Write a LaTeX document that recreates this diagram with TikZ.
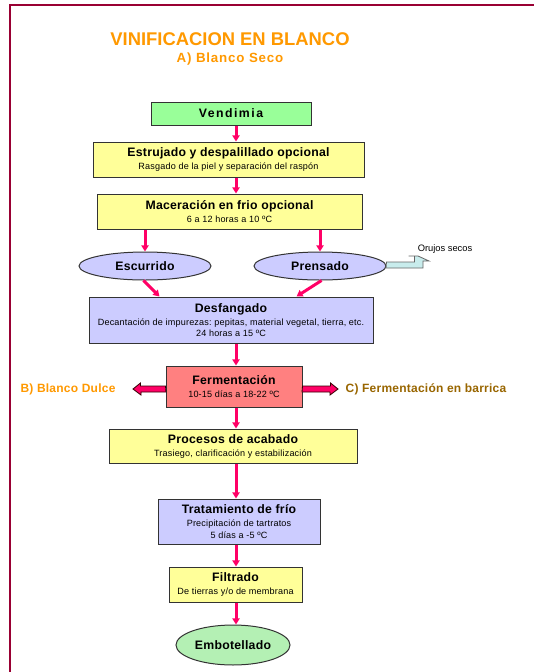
\documentclass[tikz,border=0pt]{standalone}
\usepackage{fontspec}
\setmainfont{Liberation Sans}
\frenchspacing
\usetikzlibrary{arrows.meta,shapes.geometric,calc}
\definecolor{frame}{HTML}{990033}
\definecolor{ttl}{HTML}{FF9900}
\definecolor{brn}{HTML}{996600}
\definecolor{yel}{HTML}{FFFF99}
\definecolor{vgreen}{HTML}{99FF99}
\definecolor{lgreen}{RGB}{180,240,180}
\definecolor{lav}{HTML}{CCCCFF}
\definecolor{salmon}{HTML}{FF8080}
\definecolor{pinkarr}{HTML}{FF0066}
\definecolor{cyanarr}{RGB}{200,236,236}
\definecolor{boxline}{HTML}{333333}
\newcommand{\tit}{\fontsize{9.2pt}{9.75pt}\selectfont\bfseries\addfontfeature{LetterSpace=2}}
\newcommand{\subt}{\fontsize{6.8pt}{9.75pt}\selectfont\addfontfeature{LetterSpace=2}}
\begin{document}
\begin{tikzpicture}[x=0.75pt,y=-0.75pt,
  box/.style={draw=boxline, line width=0.75pt, inner sep=0pt, align=center, font=\subt},
  ybox/.style={box, fill=yel},
  lbox/.style={box, fill=lav},
  ell/.style={box, ellipse},
  parr/.style={draw=pinkarr, line width=2.25pt, -{Triangle[width=5.4pt,length=4.6pt]}},
  barr/.style={fill=pinkarr, draw=black!80!red, line width=0.6pt, line join=miter},
  carr/.style={fill=cyanarr, draw=black!60, line width=0.6pt, line join=miter},
  lbl/.style={inner sep=0pt, font=\fontsize{9pt}{10pt}\selectfont\bfseries\addfontfeature{LetterSpace=2}}
]
\useasboundingbox (0,0) rectangle (533,672);
\fill[white] (0,0) rectangle (533,672);
\draw[frame, line width=1.5pt, line join=miter] (540,5) -- (10,5) -- (10,680);

% titles
\node[inner sep=0pt, text=ttl, font=\fontsize{13.8pt}{15pt}\selectfont\bfseries] (title) at (230,39) {VINIFICACION EN BLANCO};
\node[inner sep=0pt, text=ttl, font=\fontsize{10pt}{11pt}\selectfont\bfseries\addfontfeature{LetterSpace=6}] (subtitle) at (230,59) {A) Blanco Seco};

% boxes
\node[box, fill=vgreen, minimum width=120pt, minimum height=17.25pt] (vend) at (231,113.5) {\tit\addfontfeature{LetterSpace=12}Vendimia};
\node[ybox, minimum width=203.25pt, minimum height=26.25pt] (estr) at (228.5,159.5)
  {{\tit Estrujado y despalillado opcional}\\Rasgado de la piel y separación del raspón};
\node[ybox, minimum width=198.75pt, minimum height=26.25pt] (mac) at (229.5,211.5)
  {{\tit Maceración en frio opcional}\\6 a 12 horas a 10 ºC};
\node[ell, fill=lav, minimum width=99pt, minimum height=21pt] (esc) at (145,266) {\tit Escurrido};
\node[ell, fill=lav, minimum width=99pt, minimum height=21pt] (prn) at (320,266) {\tit Prensado};
\node[lbox, minimum width=213pt, minimum height=34.5pt] (des) at (231,320)
  {{\tit Desfangado}\\Decantación de impurezas: pepitas, material vegetal, tierra, etc.\\[-1.4pt]24 horas a 15 ºC};
\node[box, fill=salmon, minimum width=102pt, minimum height=30.75pt] (ferm) at (234,386.5)
  {{\tit Fermentación}\\10-15 días a 18-22 ºC};
\node[ybox, minimum width=186pt, minimum height=25.5pt] (proc) at (233,446)
  {{\tit Procesos de acabado}\\Trasiego, clarificación y estabilización};
\node[lbox, minimum width=121.5pt, minimum height=33.75pt] (trat) at (239,521.5)
  {{\tit Tratamiento de frío}\\Precipitación de tartratos\\[-1.4pt]5 días a -5 ºC};
\node[ybox, minimum width=99.75pt, minimum height=26.25pt] (filt) at (235.5,584.5)
  {{\tit Filtrado}\\De tierras y/o de membrana};
\node[ell, fill=lgreen, minimum width=85.5pt, minimum height=30pt] (emb) at (233,645) {\tit Embotellado};

% side labels
\node[lbl, text=ttl] (dulce) at (68,389) {B) Blanco Dulce};
\node[lbl, text=brn] (barrica) at (426,389) {C) Fermentación en barrica};
\node[inner sep=0pt, font=\fontsize{7pt}{8pt}\selectfont] (oru) at (445,249) {Orujos secos};

% main spine
\coordinate (xl) at (236,0);
\draw[parr] (vend.south -| xl) -- (estr.north -| xl);
\draw[parr] (estr.south -| xl) -- (mac.north -| xl);
\draw[parr] (mac.south -| esc) -- (esc.north);
\draw[parr] (mac.south -| prn) -- (prn.north);
\draw[parr] (esc.264) -- ([xshift=53.25pt]des.north west);
\draw[parr] (prn.276) -- ([xshift=156pt]des.north west);
\draw[parr] (des.south -| xl) -- (ferm.north -| xl);
\draw[parr] (ferm.south -| xl) -- (proc.north -| xl);
\draw[parr] (proc.south -| xl) -- (trat.north -| xl);
\draw[parr] (trat.south -| xl) -- (filt.north -| xl);
\draw[parr] (filt.south -| xl) -- (emb.north -| xl);

% block arrows from fermentation
\coordinate (tipL) at (133,389);
\coordinate (tipR) at (338,389);
\draw[barr] ([yshift=2.25pt]ferm.west |- tipL) -- ++(-25,0) -- ++(0,-3) -- (tipL) -- ++(8,6) -- ++(0,-3) -- ++(25,0) -- cycle;
\draw[barr] ([yshift=2.25pt]ferm.east |- tipR) -- ++(28,0) -- ++(0,-3) -- (tipR) -- ++(-8,6) -- ++(0,-3) -- ++(-28,0) -- cycle;

% orujos arrow
\coordinate (tipO) at (418,256);
\draw[carr] ([yshift=3pt]prn.east) -- ++(28,0) -- ++(0,-6) -- ++(-6,0) -- (tipO) -- ++(11,5) -- ++(-6,0) -- ++(0,7) -- ++(-37,0) -- cycle;
\end{tikzpicture}
\end{document}
